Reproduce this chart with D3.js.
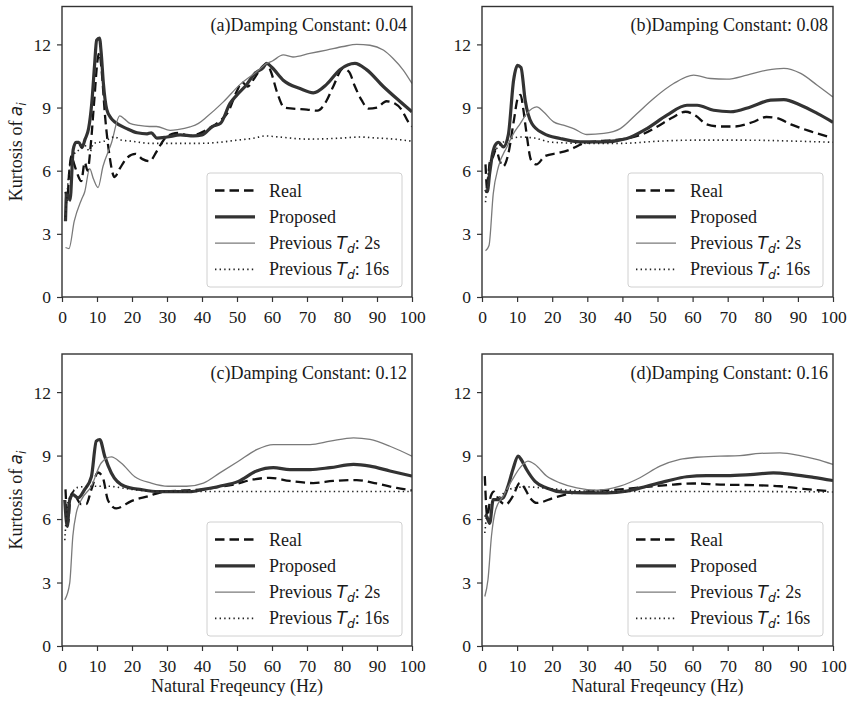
<!DOCTYPE html>
<html>
<head>
<meta charset="utf-8">
<script src="https://cdn.jsdelivr.net/npm/d3@7"></script>
<style>
  html, body { margin: 0; padding: 0; background: #fff; }
  svg { display: block; }
</style>
</head>
<body>
<svg id="chart" width="851" height="702"></svg>
<script>
// Kurtosis of a_i versus natural frequency, four damping constants.
// Each series is a list of [frequency (Hz), kurtosis] pairs.

const xTicks = [0, 10, 20, 30, 40, 50, 60, 70, 80, 90, 100];
const yTicks = [0, 3, 6, 9, 12];
const seriesNames = ["Real", "Proposed", "Previous T_d: 2s", "Previous T_d: 16s"];
const panelTitles = [
  "(a)Damping Constant: 0.04",
  "(b)Damping Constant: 0.08",
  "(c)Damping Constant: 0.12",
  "(d)Damping Constant: 0.16"
];

// (a) damping 0.04
const realA = [[1,5.0],[1.5,4.6],[2,5.8],[2.7,6.7],[3.5,6.3],[4.5,5.8],[5.5,5.5],[6.5,6.4],[7.3,6.0],[8.2,7.2],[9.2,9.3],[10.2,11.3],[10.7,11.6],[11.3,10.8],[12.3,8.6],[13.5,6.8],[15,5.7],[16.5,6.1],[18.5,6.6],[21,6.8],[23,6.55],[25,6.45],[27,6.9],[29,7.45],[31.5,7.75],[33.5,7.8],[36,7.65],[39,7.75],[42,8.0],[45,8.35],[47.5,8.8],[50,9.8],[51.5,10.2],[53,10.0],[55,10.4],[57,10.9],[58.5,11.1],[59.7,10.7],[61.5,9.7],[63.5,9.0],[66,8.95],[70,8.9],[73,8.85],[75.5,9.3],[77.5,10.0],[80.3,10.85],[82,10.7],[83.7,10.0],[85.6,9.35],[87.5,8.95],[90,9.0],[92.7,9.3],[95,9.2],[97,8.9],[99,8.3],[100,8.1]];
const propA = [[1,3.6],[1.3,4.9],[1.8,4.8],[2.3,4.6],[3.2,7.0],[4,7.35],[4.8,7.35],[5.7,7.1],[6.6,7.5],[7.6,8.0],[8.5,9.2],[9.3,11.0],[9.9,12.2],[10.7,12.3],[11.2,11.6],[11.8,10.2],[12.8,8.9],[14,8.5],[15.2,8.3],[18.5,8.0],[21.5,7.8],[24.3,7.75],[25.5,7.8],[27.1,7.55],[30,7.6],[33.8,7.7],[37.6,7.65],[40,7.7],[43,8.1],[45.3,8.25],[48,9.2],[50,9.6],[52.8,10.1],[55,10.6],[57.5,10.9],[58.5,11.1],[60,10.9],[63.2,10.3],[68,9.9],[71.8,9.7],[75.6,10.1],[79.4,10.8],[83.7,11.1],[87,10.8],[91.8,10.0],[96.5,9.3],[100,8.8]];
const prev2A = [[1,2.35],[2,2.3],[3.5,3.6],[5.5,4.6],[6.5,5.0],[7.9,6.1],[9,5.6],[10.3,5.2],[11.7,6.2],[14.1,7.3],[16.5,8.6],[17.9,8.45],[19.4,8.25],[22,8.15],[25,8.1],[27,8.1],[30.9,7.92],[33,7.95],[36.6,8.08],[39,8.25],[41.3,8.55],[46.1,9.27],[50.9,10.1],[55.6,10.7],[58.5,11.1],[60,11.2],[63.2,11.5],[66,11.4],[70.8,11.57],[75.6,11.73],[80.4,11.9],[84.2,12.0],[88,11.96],[91.8,11.73],[94.6,11.33],[97.5,10.78],[100,10.14]];
const prev16A = [[1,3.8],[1.5,5.0],[2.5,6.5],[3.5,6.8],[5,7.0],[6.5,7.2],[8,6.9],[9,7.3],[10.5,7.35],[12,7.4],[15,7.6],[17,7.45],[20,7.4],[25,7.3],[30,7.3],[35,7.3],[40,7.3],[45,7.35],[50,7.45],[55,7.55],[58,7.65],[62,7.6],[70,7.5],[80,7.55],[85,7.6],[90,7.55],[95,7.5],[100,7.4]];

// (b) damping 0.08
const realB = [[1,6.3],[1.5,5.1],[2.2,6.4],[3,6.6],[4,7.0],[5,6.5],[6,6.2],[7.5,6.8],[9,8.3],[10.3,9.5],[11,9.6],[11.7,9.0],[12.5,8.0],[14,6.5],[15.5,6.3],[18,6.7],[22,6.85],[25,7.0],[29,7.3],[33,7.4],[37,7.45],[42,7.55],[46,7.75],[50,8.1],[54,8.5],[58,8.8],[61,8.6],[64,8.2],[68,8.1],[72,8.1],[77,8.3],[81,8.55],[84,8.5],[88,8.2],[93,7.9],[99,7.6]];
const propB = [[1,5.1],[1.5,5.0],[2.2,5.9],[3,6.8],[3.7,7.2],[4.7,7.35],[6.1,7.13],[7.5,7.7],[9,10.3],[10.1,11.0],[11.1,10.9],[12.3,9.35],[14.2,8.24],[17.5,7.77],[22.3,7.53],[28,7.37],[34.7,7.37],[41.3,7.53],[47,8.0],[52.7,8.64],[58.4,9.11],[61.3,9.11],[66,8.87],[70.8,8.8],[76.5,9.03],[82.2,9.35],[86,9.38],[90.8,9.11],[95.5,8.72],[100,8.3]];
const prev2B = [[1,2.2],[2,2.45],[3.2,4.9],[4.7,6.2],[7.1,7.13],[9,7.77],[10.9,8.24],[12.8,8.72],[15.6,9.03],[17.5,8.8],[20.4,8.32],[23.2,8.16],[26.1,8.0],[29.9,7.72],[34.7,7.77],[39.4,8.0],[44.2,8.72],[48.9,9.43],[54.6,10.14],[60.3,10.54],[65.1,10.38],[69.8,10.35],[75.5,10.54],[81.2,10.78],[86,10.86],[90.8,10.62],[95.5,10.06],[100,9.5]];
const prev16B = [[1,4.5],[1.5,5.5],[2.5,6.5],[5,7.2],[8,7.5],[11,7.6],[15,7.55],[20,7.35],[30,7.3],[40,7.3],[50,7.4],[60,7.45],[75,7.45],[90,7.4],[100,7.35]];

// (c) damping 0.12
const realC = [[1,7.4],[1.7,5.8],[2.4,7.0],[3.4,7.3],[4.5,6.9],[5.5,6.7],[6.9,6.7],[8.4,7.4],[10.3,8.2],[11.7,7.95],[13.1,6.9],[15.5,6.5],[19.8,6.85],[24.6,7.08],[29.3,7.3],[35,7.35],[40.4,7.4],[44,7.5],[49,7.63],[54.7,7.87],[59.4,7.95],[65.1,7.8],[71.8,7.7],[77.5,7.8],[84.2,7.84],[89.9,7.68],[95.6,7.47],[100,7.35]];
const propC = [[0.8,6.9],[1.5,5.65],[2.2,6.9],[3.1,7.15],[4.6,7.0],[6.5,7.4],[8.4,8.0],[9.8,9.68],[10.8,9.76],[12.2,8.97],[14.1,8.18],[17.9,7.55],[22.7,7.39],[27.4,7.3],[36.9,7.3],[40.4,7.4],[45,7.55],[50.4,7.78],[55.6,8.27],[60.4,8.43],[65.1,8.34],[70.9,8.34],[76.6,8.43],[83.3,8.58],[88,8.5],[93.7,8.27],[100,8.03]];
const prev2C = [[0.8,2.18],[2.2,2.97],[3.1,5.2],[4.1,6.3],[5.5,6.9],[8.4,7.55],[11.2,8.65],[14.1,8.94],[16.9,8.65],[20.8,8.0],[25.5,7.7],[30.3,7.55],[35.6,7.55],[40.4,7.7],[45.1,8.18],[50.4,8.73],[55.6,9.28],[60.4,9.52],[65.1,9.52],[70.9,9.52],[76.6,9.68],[83.3,9.84],[88,9.76],[93.7,9.44],[100,8.97]];
const prev16C = [[0.8,5.0],[1.7,6.8],[4.6,7.5],[8.4,7.55],[13,7.55],[19.8,7.4],[30,7.3],[50,7.3],[70,7.3],[100,7.3]];

// (d) damping 0.16
const realD = [[0.8,8.03],[1.5,6.13],[2.5,7.08],[3.4,7.3],[4.8,6.92],[6.7,6.68],[8.8,7.08],[10.8,7.71],[11.8,7.55],[13.7,7.0],[15.6,6.76],[20.4,7.0],[26,7.24],[31.7,7.32],[39.3,7.4],[46.9,7.52],[54.5,7.63],[60.2,7.68],[67.8,7.63],[77.3,7.6],[84.9,7.55],[91.5,7.43],[99.1,7.32]];
const propD = [[0.8,6.2],[1.3,6.13],[2.2,5.8],[3.2,6.92],[4.6,6.92],[6,7.0],[7.4,7.55],[8.8,8.34],[10.3,8.97],[11.2,8.8],[12.7,8.34],[15.1,7.78],[18.4,7.47],[23.2,7.27],[29.8,7.24],[35.5,7.24],[41.2,7.32],[46.9,7.55],[52.6,7.79],[58.3,8.0],[64,8.05],[69.7,8.05],[76.4,8.1],[83,8.18],[88.7,8.1],[94.4,7.97],[100,7.82]];
const prev2D = [[0.8,2.34],[1.7,3.13],[2.7,5.2],[3.9,6.45],[6,7.08],[8.4,7.79],[10.8,8.42],[13.1,8.74],[15.1,8.58],[18.4,8.03],[22.2,7.71],[27,7.47],[32.7,7.36],[39.3,7.55],[45,7.95],[50.7,8.5],[56.4,8.82],[61.2,8.92],[67.8,8.97],[73.5,9.0],[79.2,9.1],[84.9,9.13],[90.6,9.0],[95.3,8.82],[100,8.58]];
const prev16D = [[0.8,5.34],[1.8,6.6],[4.8,7.0],[7.6,7.4],[12.4,7.52],[20,7.43],[30,7.32],[50,7.3],[75,7.3],[100,7.28]];

const panelSeries = [
  [realA, propA, prev2A, prev16A],
  [realB, propB, prev2B, prev16B],
  [realC, propC, prev2C, prev16C],
  [realD, propD, prev2D, prev16D]
];

// Line styles, in legend order.
const lineStyles = [
  { stroke: "#111", width: 2.3, dash: "9.5,5" },
  { stroke: "#333", width: 3.2, dash: null },
  { stroke: "#7a7a7a", width: 1.3, dash: null },
  { stroke: "#222", width: 1.6, dash: "1.4,3.2" }
];

// Panel frames: left, right, top, bottom in pixels.
const frames = [
  { left: 62, right: 412, top: 6.5, bottom: 297 },
  { left: 482, right: 833, top: 6.5, bottom: 297 },
  { left: 62, right: 412, top: 354, bottom: 646 },
  { left: 482, right: 833, top: 354, bottom: 646 }
];

const SERIF = '"Liberation Serif", "Times New Roman", serif';
const MATH = '"DejaVu Sans", sans-serif';

const svg = d3.select("#chart");
const yMax = 13.8;

function serifText(sel, size) {
  return sel.attr("font-family", SERIF)
    .style("font-family", SERIF)
    .style("font-size", size + "px")
    .attr("fill", "#1a1a1a");
}

function mathSpan(parent, txt, size, dy) {
  const s = parent.append("tspan")
    .attr("font-family", MATH)
    .style("font-family", MATH)
    .style("font-style", "italic")
    .style("font-size", size + "px")
    .text(txt);
  if (dy) s.attr("dy", dy);
  return s;
}

frames.forEach((fr, i) => {
  const x = d3.scaleLinear().domain([0, 100]).range([fr.left, fr.right]);
  const y = d3.scaleLinear().domain([0, yMax]).range([fr.bottom, fr.top]);
  const g = svg.append("g");

  const clipId = "clip" + i;
  svg.append("clipPath").attr("id", clipId)
    .append("rect")
    .attr("x", fr.left).attr("y", fr.top)
    .attr("width", fr.right - fr.left).attr("height", fr.bottom - fr.top);

  // Curves
  const line = d3.line()
    .x(d => x(d[0]))
    .y(d => y(d[1]))
    .curve(d3.curveMonotoneX);

  const lines = g.append("g").attr("clip-path", `url(#${clipId})`);
  panelSeries[i].forEach((data, k) => {
    const st = lineStyles[k];
    lines.append("path")
      .datum(data)
      .attr("d", line)
      .attr("fill", "none")
      .attr("stroke", st.stroke)
      .attr("stroke-width", st.width)
      .attr("stroke-linejoin", "round")
      .attr("stroke-dasharray", st.dash);
  });

  // Axes
  const xAxis = d3.axisBottom(x).tickValues(xTicks).tickSize(5).tickPadding(5).tickFormat(d3.format("d"));
  const yAxis = d3.axisLeft(y).tickValues(yTicks).tickSize(5).tickPadding(6).tickFormat(d3.format("d"));

  const gx = g.append("g").attr("transform", `translate(0,${fr.bottom})`).call(xAxis);
  const gy = g.append("g").attr("transform", `translate(${fr.left},0)`).call(yAxis);
  [gx, gy].forEach(ax => {
    ax.attr("font-family", SERIF).attr("font-size", 17.5);
    ax.select(".domain").remove();
    ax.selectAll(".tick line").attr("stroke", "#333").attr("stroke-width", 1.2);
    serifText(ax.selectAll(".tick text"), 17.5);
  });
  gx.selectAll(".tick text").attr("dy", "0.9em");
  gy.selectAll(".tick text").attr("dy", "0.34em");

  // Frame
  g.append("rect")
    .attr("x", fr.left).attr("y", fr.top)
    .attr("width", fr.right - fr.left).attr("height", fr.bottom - fr.top)
    .attr("fill", "none").attr("stroke", "#333").attr("stroke-width", 1.4);

  // Panel title
  serifText(g.append("text"), 18)
    .attr("x", fr.right - 5).attr("y", fr.top + 24.5)
    .attr("text-anchor", "end")
    .text(panelTitles[i]);

  // Legend
  const lgW = 195, lgH = 114;
  const lx = fr.right - 10 - lgW, ly = fr.bottom - 10 - lgH;
  const lg = g.append("g");
  lg.append("rect")
    .attr("x", lx).attr("y", ly).attr("width", lgW).attr("height", lgH)
    .attr("rx", 3).attr("ry", 3)
    .attr("fill", "#fff").attr("fill-opacity", 0.85)
    .attr("stroke", "#d0d0d0").attr("stroke-width", 1);

  seriesNames.forEach((name, k) => {
    const cy = ly + 17.5 + k * 26.3;
    const st = lineStyles[k];
    lg.append("line")
      .attr("x1", lx + 8).attr("x2", lx + 48)
      .attr("y1", cy).attr("y2", cy)
      .attr("stroke", st.stroke).attr("stroke-width", st.width)
      .attr("stroke-dasharray", st.dash);
    const t = serifText(lg.append("text"), 18)
      .attr("x", lx + 62).attr("y", cy + 6);
    const parts = name.split(" T_d");
    if (parts.length === 2) {
      t.append("tspan").text(parts[0] + " ");
      mathSpan(t, "T", 17);
      mathSpan(t, "d", 12.5, 4);
      t.append("tspan").attr("dy", -4).text(parts[1]);
    } else {
      t.text(name);
    }
  });

  // Axis titles
  const isLeft = i % 2 === 0;
  const isBottom = i >= 2;
  if (isLeft) {
    const cyMid = (fr.top + fr.bottom) / 2;
    const yl = serifText(g.append("text"), 18)
      .attr("transform", `translate(22,${cyMid}) rotate(-90)`)
      .attr("text-anchor", "middle");
    yl.append("tspan").text("Kurtosis of ");
    mathSpan(yl, "a", 17);
    mathSpan(yl, "i", 12, 4);
  }
  if (isBottom) {
    serifText(g.append("text"), 18)
      .attr("x", (fr.left + fr.right) / 2)
      .attr("y", fr.bottom + 46)
      .attr("text-anchor", "middle")
      .text("Natural Freqeuncy (Hz)");
  }
});
</script>
</body>
</html>
